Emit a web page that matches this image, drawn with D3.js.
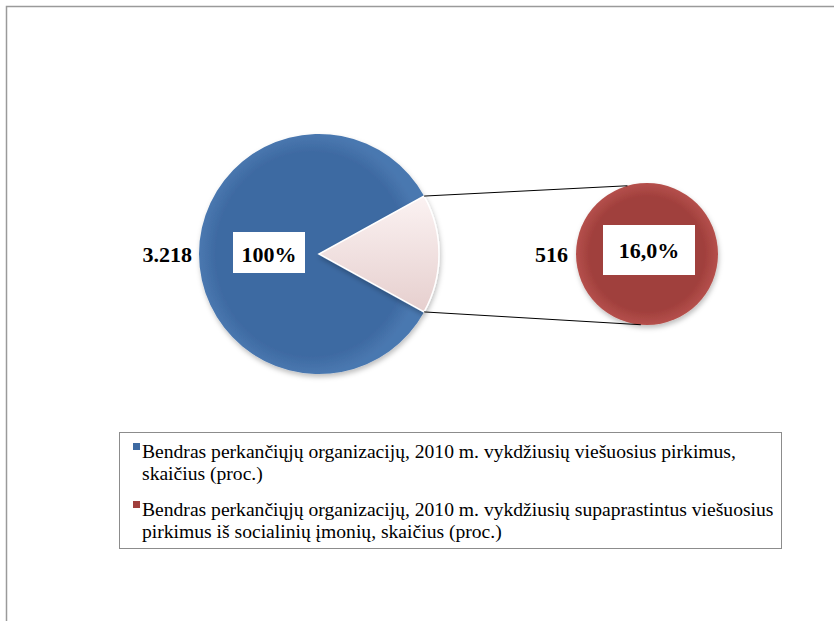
<!DOCTYPE html>
<html>
<head>
<meta charset="utf-8">
<script src="https://cdn.jsdelivr.net/npm/d3@7"></script>
<style>
  body { margin: 0; background: #fff; }
  svg { display: block; }
</style>
</head>
<body>
<div id="chart"></div>
<script>
// data
let totalCount = 3218;
let socialCount = 516;
let valueLabels = ["3.218", "516"];
let percentLabels = ["100%", "16,0%"];
let legendLines = [
  ["Bendras perkančiųjų organizacijų, 2010 m. vykdžiusių viešuosius pirkimus,", "skaičius (proc.)"],
  ["Bendras perkančiųjų organizacijų, 2010 m. vykdžiusių supaprastintus viešuosius", "pirkimus iš socialinių įmonių, skaičius (proc.)"]
];
let colors = ["#3e6aa2", "#a03f3c", "#efd9d8"];

let width = 834, height = 621;
let serif = "'Liberation Serif', 'Times New Roman', Times, 'DejaVu Serif', serif";

let svg = d3.select("#chart").append("svg")
  .attr("width", width)
  .attr("height", height)
  .attr("font-family", serif);

let defs = svg.append("defs");

// soft shading similar to the office style
let blueGrad = defs.append("radialGradient").attr("id", "blueGrad")
  .attr("cx", "50%").attr("cy", "50%").attr("r", "50%");
blueGrad.append("stop").attr("offset", "85%").attr("stop-color", "#3e6aa2");
blueGrad.append("stop").attr("offset", "100%").attr("stop-color", "#4a78b0");

let redGrad = defs.append("radialGradient").attr("id", "redGrad")
  .attr("cx", "50%").attr("cy", "50%").attr("r", "50%");
redGrad.append("stop").attr("offset", "80%").attr("stop-color", "#a03f3c");
redGrad.append("stop").attr("offset", "100%").attr("stop-color", "#b5504c");

let paleGrad = defs.append("linearGradient").attr("id", "paleGrad")
  .attr("x1", "0%").attr("y1", "0%").attr("x2", "0%").attr("y2", "100%");
paleGrad.append("stop").attr("offset", "0%").attr("stop-color", "#fbf2f2");
paleGrad.append("stop").attr("offset", "100%").attr("stop-color", "#e6cfce");

let shadow = defs.append("filter").attr("id", "shadow")
  .attr("x", "-10%").attr("y", "-10%").attr("width", "120%").attr("height", "130%");
shadow.append("feDropShadow")
  .attr("dx", 1).attr("dy", 3).attr("stdDeviation", 2.5)
  .attr("flood-color", "#000").attr("flood-opacity", 0.25);

// outer frame (cut by the page edge)
svg.append("path")
  .attr("d", "M6.5," + height + "V6.5H" + width)
  .attr("fill", "none")
  .attr("stroke", "#9a9a9a")
  .attr("stroke-width", 1.5);

// main pie
let cx = 319, cy = 254, r = 120;
let rest = totalCount - socialCount;
let half = Math.PI * socialCount / totalCount;
let pie = d3.pie().sort(null)
  .startAngle(Math.PI / 2 + half)
  .endAngle(Math.PI / 2 + half + 2 * Math.PI);
let arcs = pie([rest, socialCount]);
let arc = d3.arc().innerRadius(0).outerRadius(r);

let g = svg.append("g").attr("transform", "translate(" + cx + "," + cy + ")");
g.selectAll("path")
  .data(arcs)
  .enter()
  .append("path")
    .attr("d", arc)
    .attr("fill", (d, i) => i == 0 ? "url(#blueGrad)" : "url(#paleGrad)")
    .attr("stroke", (d, i) => i == 0 ? "none" : "#fff")
    .attr("stroke-width", 1.5)
    .attr("filter", "url(#shadow)");

// secondary circle
let cx2 = 647, cy2 = 254, r2 = 71;
let pie2 = d3.pie().sort(null);
let arc2 = d3.arc().innerRadius(0).outerRadius(r2);
let g2 = svg.append("g").attr("transform", "translate(" + cx2 + "," + cy2 + ")");
g2.selectAll("path")
  .data(pie2([socialCount]))
  .enter()
  .append("path")
    .attr("d", arc2)
    .attr("fill", "url(#redGrad)")
    .attr("filter", "url(#shadow)");

// connector lines from the pale slice to the small circle
let pale = arcs[1];
let topPt = [cx + r * Math.sin(pale.startAngle), cy - r * Math.cos(pale.startAngle)];
let botPt = [cx + r * Math.sin(pale.endAngle), cy - r * Math.cos(pale.endAngle)];
let a1 = -106 * Math.PI / 180, a2 = 95 * Math.PI / 180;
svg.append("line")
  .attr("x1", topPt[0]).attr("y1", topPt[1])
  .attr("x2", cx2 + r2 * Math.cos(a1)).attr("y2", cy2 + r2 * Math.sin(a1))
  .attr("stroke", "#000").attr("stroke-width", 1);
svg.append("line")
  .attr("x1", botPt[0]).attr("y1", botPt[1])
  .attr("x2", cx2 + r2 * Math.cos(a2)).attr("y2", cy2 + r2 * Math.sin(a2))
  .attr("stroke", "#000").attr("stroke-width", 1);

// value labels outside
svg.append("text")
  .attr("x", 192).attr("y", cy + 8)
  .attr("text-anchor", "end")
  .attr("font-size", 22).attr("font-weight", "bold")
  .text(valueLabels[0]);
svg.append("text")
  .attr("x", 568).attr("y", cy + 8)
  .attr("text-anchor", "end")
  .attr("font-size", 22).attr("font-weight", "bold")
  .text(valueLabels[1]);

// percentage boxes
svg.append("rect").attr("x", 233).attr("y", 232).attr("width", 72).attr("height", 41).attr("fill", "#fff");
svg.append("text")
  .attr("x", 269).attr("y", cy + 8)
  .attr("text-anchor", "middle")
  .attr("font-size", 22).attr("font-weight", "bold")
  .text(percentLabels[0]);
svg.append("rect").attr("x", 603).attr("y", 225).attr("width", 92).attr("height", 50).attr("fill", "#fff");
svg.append("text")
  .attr("x", 649).attr("y", 258)
  .attr("text-anchor", "middle")
  .attr("font-size", 22).attr("font-weight", "bold")
  .text(percentLabels[1]);

// legend
let legend = svg.append("g");
legend.append("rect")
  .attr("x", 119.5).attr("y", 432.5)
  .attr("width", 662).attr("height", 116)
  .attr("fill", "#fff")
  .attr("stroke", "#8c8c8c").attr("stroke-width", 1);

let rowY = [452, 510];
legendLines.forEach((lines, i) => {
  legend.append("rect")
    .attr("x", 133).attr("y", rowY[i] - 9)
    .attr("width", 7).attr("height", 7)
    .attr("fill", colors[i]);
  lines.forEach((t, j) => {
    legend.append("text")
      .attr("x", 142).attr("y", rowY[i] + j * 22 + 6)
      .attr("font-size", 19.6)
      .text(t);
  });
});
</script>
</body>
</html>
